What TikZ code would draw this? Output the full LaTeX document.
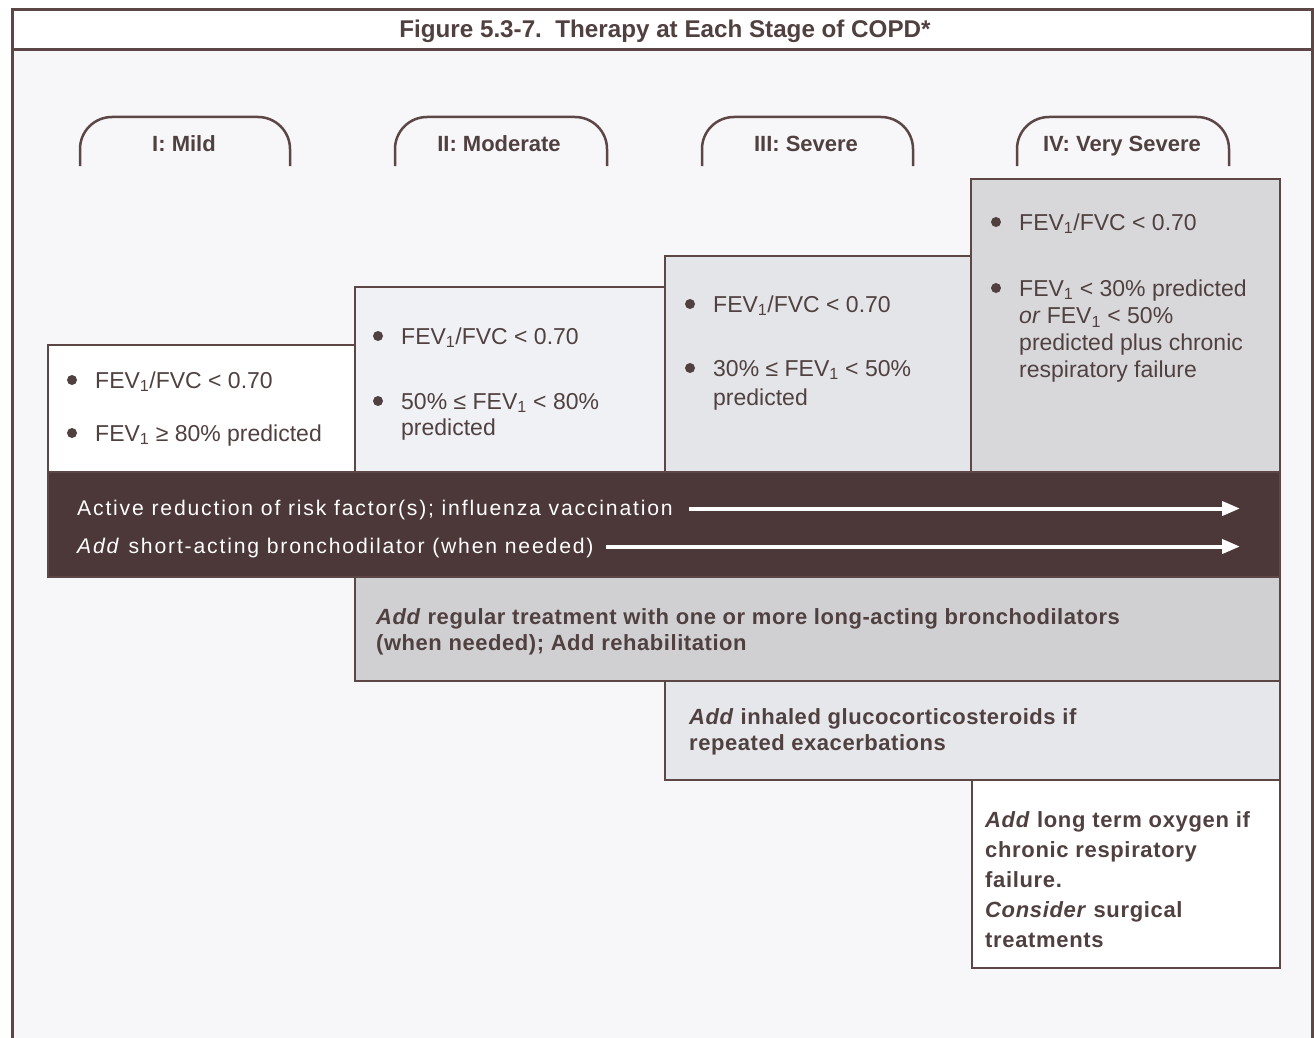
\documentclass[tikz,border=0pt]{standalone}
\usepackage{fontspec}
\setmainfont{Liberation Sans}
\newfontfamily\trackfont[LetterSpace=8.5]{Liberation Sans}
\newfontfamily\widefont[LetterSpace=3]{Liberation Sans}
\newfontfamily\trtfont[LetterSpace=2.5]{Liberation Sans}
\usetikzlibrary{arrows.meta}
\definecolor{ln}{RGB}{92,70,70}
\definecolor{tx}{RGB}{80,64,64}
\definecolor{band}{RGB}{76,56,56}
\definecolor{bg}{RGB}{247,247,249}
\definecolor{fa}{RGB}{239,241,244}
\definecolor{fb}{RGB}{228,229,232}
\definecolor{fc}{RGB}{216,216,219}
\definecolor{fd}{RGB}{208,208,211}
\definecolor{fe}{RGB}{230,231,234}
\tikzset{
 boxs/.style={draw=ln,line width=2.2pt,anchor=north west,inner sep=0pt,outer sep=0pt},
 tabtxt/.style={font=\fontsize{22}{26}\selectfont\bfseries,text=tx,inner sep=0pt,anchor=base},
 itm/.style={font=\fontsize{23}{27}\selectfont,text=tx,anchor=base west,inner sep=0pt},
 bnd/.style={font=\trackfont\fontsize{21.2}{25}\selectfont,text=white,anchor=base west,inner sep=0pt},
 trt/.style={font=\trtfont\fontsize{22}{26}\selectfont\bfseries,text=tx,anchor=base west,inner sep=0pt},
 oxy/.style={font=\widefont\fontsize{22}{30}\selectfont\bfseries,text=tx,anchor=base west,inner sep=0pt},
 bul/.style={fill=tx},
 arr/.style={draw=white,line width=4pt,-{Triangle[length=18pt,width=14pt]}},
 tabline/.style={draw=ln,line width=2.5pt,rounded corners=32pt},
}
\newcommand\fev{FEV\textsubscript{1}}
\newcommand\lns[2]{\parbox[t]{#1}{\raggedright #2}}
\begin{document}
\begin{tikzpicture}[x=1pt,y=-1pt]
\useasboundingbox (0,0) rectangle (1314,1038);
\fill[white] (0,0) rectangle (1314,1038);
% frame
\fill[bg] (12,50) rectangle (1312,1038);
\draw[ln,line width=3pt] (12,1040) -- (12,10) -- (1312,10) -- (1312,1040);
\draw[ln,line width=3pt] (12,50) -- (1312,50);
\node[font=\fontsize{24.2}{28}\selectfont\bfseries,text=tx,anchor=base,inner sep=0pt] (title) at (665,38) {Figure 5.3-7.\ \ Therapy at Each Stage of COPD*};
% stage tabs
\node[tabtxt] (tab1) at (184,151) {I: Mild};
\node[tabtxt] (tab2) at (499,151) {II: Moderate};
\node[tabtxt] (tab3) at (806,151) {III: Severe};
\node[tabtxt] (tab4) at (1122,151) {IV: Very Severe};
\draw[tabline] (80,166) -- (80,117) -- (290,117) -- (290,166);
\draw[tabline] (395,166) -- (395,117) -- (607,117) -- (607,166);
\draw[tabline] (702,166) -- (702,117) -- (913,117) -- (913,166);
\draw[tabline] (1017,166) -- (1017,117) -- (1229,117) -- (1229,166);
% stage boxes
\node[boxs,fill=white,minimum width=307pt,minimum height=127pt] (mild) at (48,345) {};
\node[boxs,fill=fa,minimum width=310pt,minimum height=185pt] (mod) at (355,287) {};
\node[boxs,fill=fb,minimum width=306pt,minimum height=216pt] (sev) at (665,256) {};
\node[boxs,fill=fc,minimum width=309pt,minimum height=293pt] (vsev) at (971,179) {};
\node[boxs,fill=band,minimum width=1232pt,minimum height=105pt] (band) at (48,472) {};
\node[boxs,fill=fd,minimum width=925pt,minimum height=104pt] (reg) at (355,577) {};
\node[boxs,fill=fe,minimum width=615pt,minimum height=99pt] (glu) at (665,681) {};
\node[boxs,fill=white,minimum width=308pt,minimum height=188pt] (oxy) at (972,780) {};
% mild
\node[itm] (m1) at (95,388) {\fev/FVC < 0.70};
\node[itm] (m2) at (95,441) {\fev{} ≥ 80\% predicted};
% moderate
\node[itm] (d1) at (401,344) {\fev/FVC < 0.70};
\node[itm,font=\fontsize{23}{26}\selectfont] (d2) at (401,409) {\lns{250pt}{50\% ≤ \fev{} < 80\%\\predicted}};
% severe
\node[itm] (s1) at (713,312) {\fev/FVC < 0.70};
\node[itm,font=\fontsize{23}{29}\selectfont] (s2) at (713,376) {\lns{250pt}{30\% ≤ \fev{} < 50\%\\predicted}};
% very severe
\node[itm] (v1) at (1019,230) {\fev/FVC < 0.70};
\node[itm,font=\fontsize{23}{27.3}\selectfont] (v2) at (1019,296) {\lns{250pt}{\fev{} < 30\% predicted\\\textit{or} \fev{} < 50\%\\predicted plus chronic\\respiratory failure}};
% bullets
\foreach \n in {m1,m2,d1,d2,s1,s2,v1,v2}
  \fill[bul] ([xshift=-23pt,yshift=8pt]\n.base west) circle (5pt);
% band
\coordinate (aend) at (1240,0);
\node[bnd] (b1) at (77,515) {Active reduction of risk factor(s); influenza vaccination};
\node[bnd] (b2) at (77,553) {\textit{Add} short-acting bronchodilator (when needed)};
\draw[arr] ([xshift=16pt,yshift=1pt]b1.east) -- ([yshift=1pt]b1.east -| aend);
\draw[arr] ([xshift=12pt,yshift=1pt]b2.east) -- ([yshift=1pt]b2.east -| aend);
% treatments
\node[trt] (r1) at (376,624) {\lns{880pt}{\textit{Add} regular treatment with one or more long-acting bronchodilators\\(when needed); Add rehabilitation}};
\node[trt] (g1) at (689,724) {\lns{580pt}{\textit{Add} inhaled glucocorticosteroids if\\repeated exacerbations}};
\node[oxy] (o1) at (985,827) {\lns{290pt}{\textit{Add} long term oxygen if\\chronic respiratory\\failure.\\\textit{Consider} surgical\\treatments}};
\end{tikzpicture}
\end{document}
